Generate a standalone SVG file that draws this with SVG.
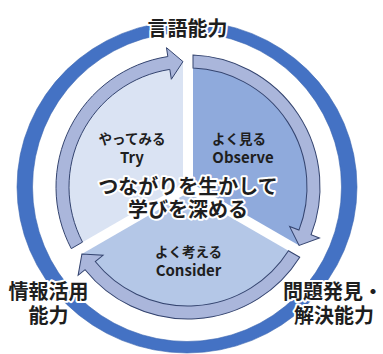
<svg xmlns="http://www.w3.org/2000/svg" xmlns:xlink="http://www.w3.org/1999/xlink" width="383" height="354" viewBox="0 0 383 354">
<style>
.t{font-family:"Noto Sans CJK JP","Noto Sans",sans-serif;font-weight:bold;fill:#1e1e1e;text-anchor:middle}
.h{stroke:#fff;stroke-width:4;stroke-linejoin:round;paint-order:stroke}
.s{font-size:13.5px}
.e{font-size:15px}
.b{font-size:20px}
.arrow{fill:#aab6db;stroke:#34446f;stroke-width:1}
.gap{stroke:#fff;stroke-width:10}
</style>
<defs>
<path id="sector" d="M188 187 L78.88 250 A126 126 0 0 1 188 61 Z"/>
<path id="arrowShape" d="M82.53 242.11 L71.27 248.63 A132 132 0 0 1 167.83 56.54 L166.46 47.65 L182.98 61.6 L171.34 79.28 L169.82 69.39 A119 119 0 0 0 82.53 242.11 Z"/>
<line id="gapLine" x1="188" y1="187" x2="188" y2="40"/>
</defs>
<rect width="383" height="354" fill="#fff"/>
<g id="ring">
<path d="M17 187 A170 166 0 1 0 357 187 A170 166 0 1 0 17 187 Z M32.5 187 A154.5 154.5 0 1 0 341.5 187 A154.5 154.5 0 1 0 32.5 187 Z" fill="#4472c4" fill-rule="evenodd" stroke="#3d66b0" stroke-width="0.6"/>
</g>
<g id="node-try">
<use xlink:href="#sector" fill="#dae3f3"/>
</g>
<g id="node-observe">
<use xlink:href="#sector" fill="#8faadc" transform="rotate(120 188 187)"/>
</g>
<g id="node-consider">
<use xlink:href="#sector" fill="#b4c7e7" transform="rotate(240 188 187)"/>
</g>
<g id="gaps" class="gap">
<use xlink:href="#gapLine"/>
<use xlink:href="#gapLine" transform="rotate(120 188 187)"/>
<use xlink:href="#gapLine" transform="rotate(240 188 187)"/>
</g>
<g id="connectors" class="arrow">
<use xlink:href="#arrowShape"/>
<use xlink:href="#arrowShape" transform="rotate(120 188 187)"/>
<use xlink:href="#arrowShape" transform="rotate(240 188 187)"/>
</g>
<g id="labels-inner">
<text class="t s" x="132" y="144">やってみる</text>
<text class="t e" x="132" y="163">Try</text>
<text class="t s" x="239" y="144">よく見る</text>
<text class="t e" x="243" y="163">Observe</text>
<text class="t s" x="188.5" y="257">よく考える</text>
<text class="t e" x="188.5" y="276">Consider</text>
</g>
<g id="center-text">
<text class="t b h" x="188" y="194">つながりを生かして</text>
<text class="t b h" x="188" y="217">学びを深める</text>
</g>
<g id="label-language">
<text class="t b h" x="187.5" y="36">言語能力</text>
</g>
<g id="label-info">
<text class="t b h" x="48.5" y="299">情報活用</text>
<text class="t b h" x="48.5" y="323">能力</text>
</g>
<g id="label-problem">
<text class="t b h" x="333" y="299">問題発見・</text>
<text class="t b h" x="334" y="323">解決能力</text>
</g>
</svg>
